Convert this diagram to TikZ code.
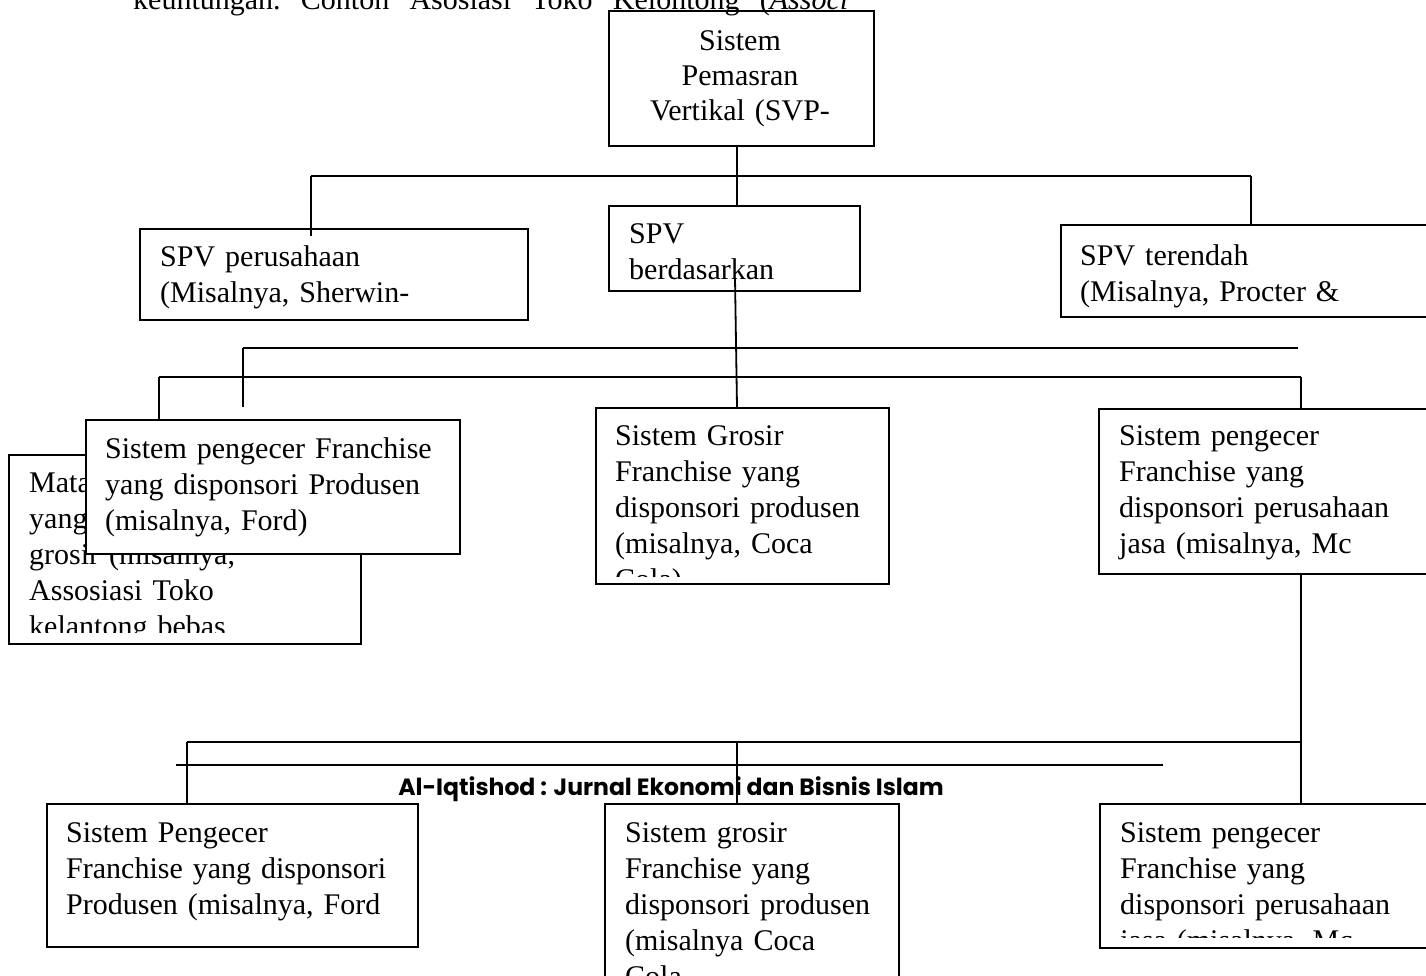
\documentclass[tikz,border=0pt]{standalone}
\usepackage{fontspec}
\setmainfont{Liberation Serif}
\newfontfamily\footfont{Poppins}
\tikzset{
  panel/.style={draw, line width=1.8pt, fill=white, inner sep=0pt, anchor=north west},
  conn/.style={line width=1.8pt},
  body/.style={font=\fontsize{30}{36}\selectfont, inner sep=0pt, anchor=base west,
               text width=420pt, align=left},
}
% box from (x1,y1) to (x2,y2), y measured downwards
\newcommand\panelbox[5]{%
  \node[panel, minimum width={#4-#2}, minimum height={#5-#3}] (#1) at (#2,#3) {};}
\begin{document}
\begin{tikzpicture}[x=1pt, y=-1pt]
\useasboundingbox (0,0) rectangle (1426,975);

% ---------- boxes ----------
\panelbox{top}{608}{10}{873}{145}
\node[font=\fontsize{30}{35}\selectfont, inner sep=0pt, anchor=base, text width=260pt, align=center]
  (toptxt) at (740,50) {Sistem\\Pemasran\\Vertikal (SVP-};

\panelbox{perus}{139}{228}{527}{319}
\node[body] (perustxt) at (160,266) {SPV perusahaan\\(Misalnya, Sherwin-};

\panelbox{berd}{608}{205}{859}{290}
\node[body] (berdtxt) at (629,243) {SPV\\berdasarkan};

\panelbox{teren}{1060}{224}{1445}{316}
\node[body] (terentxt) at (1080,265) {SPV terendah\\(Misalnya, Procter \&};

% back box, partly hidden
\panelbox{mata}{8}{454}{360}{643}
\begin{scope}
  \clip (8,454) rectangle (360,632);
  \node[body] (matatxt) at (29,492) {Mata\\yang\\grosir (misalnya,\\Assosiasi Toko\\kelantong bebas};
\end{scope}

% front box
\panelbox{front}{85}{419}{459}{553}
\node[body] (fronttxt) at (105,458) {Sistem pengecer Franchise\\yang disponsori Produsen\\(misalnya, Ford)};

\panelbox{grosir}{595}{407}{888}{583}
\begin{scope}
  \clip (595,407) rectangle (888,576);
  \node[body] (grosirtxt) at (615,445) {Sistem Grosir\\Franchise yang\\disponsori produsen\\(misalnya, Coca\\Cola)};
\end{scope}

\panelbox{rpeng}{1098}{408}{1445}{573}
\node[body] (rpengtxt) at (1119,445) {Sistem pengecer\\Franchise yang\\disponsori perusahaan\\jasa (misalnya, Mc};

\panelbox{bl}{46}{803}{417}{946}
\node[body] (bltxt) at (66,842) {Sistem Pengecer\\Franchise yang disponsori\\Produsen (misalnya, Ford};

\panelbox{bm}{604}{803}{898}{1000}
\begin{scope}
  \clip (604,803) rectangle (898,975);
  \node[body] (bmtxt) at (625,842) {Sistem grosir\\Franchise yang\\disponsori produsen\\(misalnya Coca\\Cola};
\end{scope}

\panelbox{br}{1099}{803}{1445}{947}
\begin{scope}
  \clip (1099,803) rectangle (1445,937);
  \node[body] (brtxt) at (1120,842) {Sistem pengecer\\Franchise yang\\disponsori perusahaan\\jasa (misalnya, Mc};
\end{scope}

% ---------- running (justified) text above ----------
\node[font=\fontsize{30}{36}\selectfont, inner sep=0pt, anchor=base west] (head) at (133,9)
  {\frenchspacing\makebox[715pt][s]{keuntungan. Contoh Asosiasi Toko Kelontong (\textit{Associ}}};

% ---------- junction points ----------
\coordinate (j1l) at (311,176);
\coordinate (j1m) at (737,176);
\coordinate (j1r) at (1251,176);
\coordinate (k1) at (735,278);
\coordinate (j2l) at (243,348);
\coordinate (j2r) at (1298,348);
\coordinate (j3l) at (159,377);
\coordinate (j3r) at (1301,377);
\coordinate (j4l) at (187,742);
\coordinate (j4m) at (737,742);
\coordinate (j4r) at (1301,742);

% ---------- connectors ----------
\draw[conn] (top.south -| j1m) -- (berd.north -| j1m);
\draw[conn] (j1l) -- (j1r);
\draw[conn] (j1l) -- ([yshift=-8pt]perus.north -| j1l);
\draw[conn] (j1r) -- (teren.north -| j1r);
\draw[conn] (k1) -- (grosir.north -| j1m);
\draw[conn] (j2l) -- (j2r);
\draw[conn] (j2l) -- ([yshift=12pt]front.north -| j2l);
\draw[conn] (j3l) -- (j3r);
\draw[conn] (j3l) -- (front.north -| j3l);
\draw[conn] (j3r) -- (rpeng.north -| j3r);
\draw[conn] (rpeng.south -| j3r) -- (br.north -| j3r);
\draw[conn] (j4l) -- (j4r);
\draw[conn] (j4l) -- (bl.north -| j4l);

% ---------- page footer ----------
\coordinate (rl) at (176,765);
\coordinate (rr) at (1163,765);
\draw[line width=1.5pt] (rl) -- (rr);
\node[font=\footfont\bfseries\fontsize{23.5}{26}\selectfont, inner sep=0pt, anchor=base] (foot) at (671,795)
  {Al-Iqtishod : Jurnal Ekonomi dan Bisnis Islam};

\draw[conn, line width=1.5pt] (j4m) -- (bm.north -| j4m);
\end{tikzpicture}
\end{document}
